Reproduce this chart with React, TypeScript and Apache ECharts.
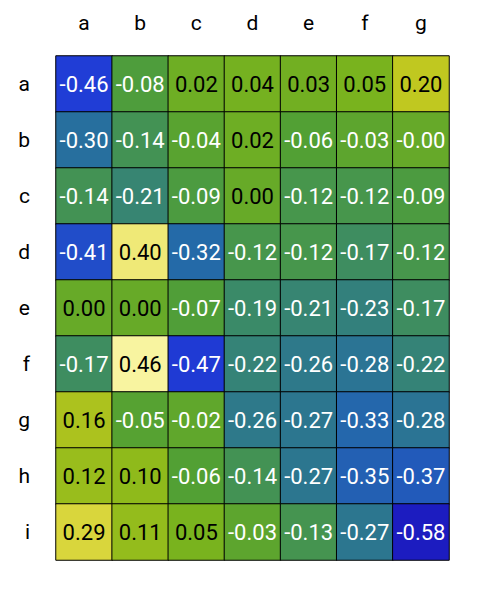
import React, { useEffect, useRef } from "react";
import * as echarts from "echarts";

const cols = ["a", "b", "c", "d", "e", "f", "g"];
const rows = ["a", "b", "c", "d", "e", "f", "g", "h", "i"];

const rowA = [-0.46, -0.08, 0.02, 0.04, 0.03, 0.05, 0.2];
const rowB = [-0.3, -0.14, -0.04, 0.02, -0.06, -0.03, -0.004];
const rowC = [-0.14, -0.21, -0.09, 0.0, -0.12, -0.12, -0.09];
const rowD = [-0.41, 0.4, -0.32, -0.12, -0.12, -0.17, -0.12];
const rowE = [0.0, 0.0, -0.07, -0.19, -0.21, -0.23, -0.17];
const rowF = [-0.17, 0.46, -0.47, -0.22, -0.26, -0.28, -0.22];
const rowG = [0.16, -0.05, -0.02, -0.26, -0.27, -0.33, -0.28];
const rowH = [0.12, 0.1, -0.06, -0.14, -0.27, -0.35, -0.37];
const rowI = [0.29, 0.11, 0.05, -0.03, -0.13, -0.27, -0.58];

const matrix = [rowA, rowB, rowC, rowD, rowE, rowF, rowG, rowH, rowI];

const colorStops = [
  "#1c1cc0",
  "#2040d8",
  "#246aa8",
  "#3a8a68",
  "#52a034",
  "#80b61a",
  "#c0c820",
  "#e4dc48",
  "#f8f4a0",
];

export default function App() {
  const ref = useRef<HTMLDivElement>(null);
  useEffect(() => {
    if (!ref.current) return;
    const chart = echarts.init(ref.current, null, { renderer: "svg" });
    const data: any[] = [];
    matrix.forEach((r, ri) =>
      r.forEach((v, ci) => {
        data.push({
          value: [ci, ri, v],
          label: { color: v < 0 ? "#ffffff" : "#000000" },
        });
      })
    );
    const all = matrix.flat();
    chart.setOption({
      animation: false,
      backgroundColor: "#ffffff",
      grid: { left: 56, right: 55, top: 56, bottom: 56 },
      xAxis: {
        type: "category",
        data: cols,
        position: "top",
        axisLine: { show: false },
        axisTick: { show: false },
        splitLine: { show: false },
        axisLabel: {
          margin: 23,
          fontSize: 21,
          color: "#000",
          fontFamily: "Roboto",
        },
      },
      yAxis: {
        type: "category",
        data: rows,
        inverse: true,
        axisLine: { show: false },
        axisTick: { show: false },
        splitLine: { show: false },
        axisLabel: {
          margin: 26,
          fontSize: 21,
          color: "#000",
          fontFamily: "Roboto",
        },
      },
      visualMap: {
        show: false,
        type: "continuous",
        dimension: 2,
        min: Math.min(...all),
        max: Math.max(...all),
        inRange: { color: colorStops },
      },
      series: [
        {
          type: "heatmap",
          data,
          itemStyle: { borderColor: "#000", borderWidth: 1 },
          label: {
            show: true,
            fontSize: 22,
            fontFamily: "Roboto",
            formatter: (p: any) => p.value[2].toFixed(2),
          },
          emphasis: { disabled: true },
        },
      ],
    });
    return () => chart.dispose();
  }, []);
  return (
    <div
      ref={ref}
      style={{ position: "fixed", left: 0, top: 0, width: 504, height: 616 }}
    />
  );
}
